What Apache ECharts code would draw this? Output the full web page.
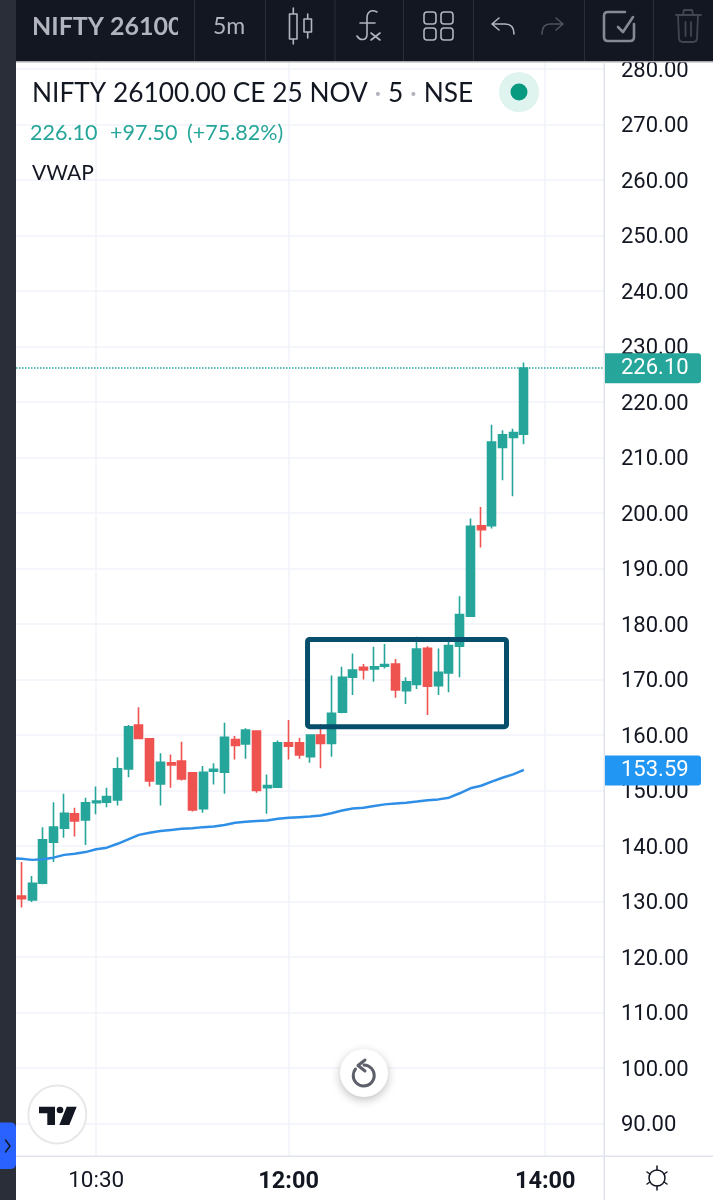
<!DOCTYPE html>
<html>
<head>
<meta charset="utf-8">
<style>
  html, body { margin: 0; padding: 0; background: #fff; }
  #chart { width: 713px; height: 1200px; }
</style>
<script src="https://cdn.jsdelivr.net/npm/echarts@6/dist/echarts.min.js"></script>
</head>
<body>
<div id="chart"></div>
<script>
// 5 minute bars, 09:50 is off the left edge and only carries the VWAP, the last few slots stay empty
const times = ['09:50','09:55','10:00','10:05','10:10','10:15','10:20','10:25','10:30','10:35','10:40','10:45','10:50','10:55',
  '11:00','11:05','11:10','11:15','11:20','11:25','11:30','11:35','11:40','11:45','11:50','11:55',
  '12:00','12:05','12:10','12:15','12:20','12:25','12:30','12:35','12:40','12:45','12:50','12:55',
  '13:00','13:05','13:10','13:15','13:20','13:25','13:30','13:35','13:40','13:45','13:50','13:55',
  '14:00','14:05','14:10','14:15','14:20','14:25'];
const timeLabels = ['10:30', '12:00', '14:00'];

const opens = [null,131.0,130.3,133.3,140.7,143.2,145.8,144.7,147.8,147.9,148.3,153.9,161.8,159.3,151.2,155.0,155.3,153.2,146.7,153.5,153.3,159.2,
  158.4,160.7,150.5,150.6,158.6,158.6,156.1,160.0,158.5,164.1,170.4,172.2,171.9,172.4,172.8,168.0,169.1,175.6,168.9,171.2,
  176.0,181.4,197.7,197.7,211.8,213.6,214.2];
const closes = [null,130.5,133.3,141.1,143.4,145.9,144.5,147.8,148.1,148.9,153.9,161.5,159.4,151.7,155.1,154.6,152.1,146.5,153.3,153.8,159.6,158.1,
  160.9,150.0,150.9,158.6,158.0,156.4,160.0,158.5,163.9,170.4,171.7,171.7,172.3,172.7,168.1,169.6,175.5,168.8,171.3,176.1,
  181.7,197.6,197.0,212.8,214.1,214.5,226.1];
const lows = [null,128.9,129.9,133.1,137.1,141.5,141.7,140.2,145.7,147.0,147.3,152.4,159.4,150.7,147.3,150.5,151.8,146.2,146.0,151.1,149.4,155.6,
  155.7,149.6,145.8,150.5,155.6,155.7,155.0,154.0,156.1,163.9,167.2,170.0,169.6,172.0,166.7,165.6,168.3,163.6,167.2,167.7,
  170.4,181.3,193.8,197.2,205.9,203.0,212.4];
const highs = [null,137.1,134.6,143.4,147.9,149.4,146.9,148.7,150.7,150.5,156.0,161.8,165.0,159.4,156.7,156.5,158.8,153.3,154.4,154.9,162.2,159.8,
  161.2,160.7,152.9,159.0,162.7,159.5,160.0,162.0,170.7,172.3,174.7,172.8,175.9,176.4,173.7,170.4,177.7,176.0,175.6,177.0,
  185.0,199.0,201.1,215.9,214.9,215.2,227.1];
const vwap = [137.8,137.7,137.5,137.6,137.9,138.4,138.6,138.9,139.4,139.7,140.4,141.2,142.0,142.4,142.7,142.9,143.1,143.2,143.4,143.5,143.8,144.2,
  144.35,144.5,144.6,144.9,145.1,145.2,145.3,145.5,145.9,146.4,146.75,146.9,147.2,147.5,147.65,147.8,148.0,148.25,148.4,148.7,
  149.5,150.4,150.85,151.6,152.3,152.9,153.7];
const lastPrice = 226.10;
const lastVwap = 153.59;

const TEAL = '#26a69a', RED = '#ef5350', BLUE = '#2f8fe6';
const UI_FONT = 'Roboto', TITLE_FONT = 'Lato';

let myChart = echarts.init(document.getElementById('chart'), null, { renderer: 'canvas' });

function tag(color) {
    return {
        show: true, position: 'end', distance: 0,
        formatter: p => p.value.toFixed(2),
        color: '#fff', backgroundColor: color, fontFamily: UI_FONT, fontSize: 22,
        width: 80, height: 24, lineHeight: 24, align: 'left', verticalAlign: 'middle',
        padding: [5, 0, 1, 17], borderRadius: [0, 3, 3, 0]
    };
}

option = {
    backgroundColor: '#fff',
    animation: false,
    grid: { left: 16, width: 588, top: 13.5, height: 1165.5 },
    xAxis: [
        {
            // gridlines only
            type: 'category', data: times, z: 1, min: 1,
            axisLine: { show: false }, axisTick: { show: false }, axisLabel: { show: false },
            splitLine: {
                show: true, alignWithLabel: true,
                interval: (i, v) => timeLabels.includes(v),
                lineStyle: { color: '#f0f3fa', width: 1.5 }
            }
        },
        {
            // time labels, they sit on top of the bottom strip
            type: 'category', data: times, z: 20, position: 'bottom', min: 1,
            axisLine: { show: false }, axisTick: { show: false },
            splitLine: { show: false },
            axisLabel: {
                show: true, margin: -9, hideOverlap: false,
                interval: (i, v) => timeLabels.includes(v),
                formatter: v => v === '10:30' ? v : '{b|' + v + '}',
                fontFamily: UI_FONT, fontSize: 22.5, color: '#131722',
                rich: { b: { fontFamily: UI_FONT, fontSize: 23.5, fontWeight: 'bold', color: '#131722' } }
            }
        }
    ],
    yAxis: {
        type: 'value', position: 'right', min: 80, max: 290, interval: 10, z: 1, scale: true,
        axisLine: { show: false }, axisTick: { show: false },
        axisLabel: {
            margin: 17, formatter: v => '{p|' + v.toFixed(2) + '}',
            rich: { p: { padding: [4, 0, 0, 0], fontFamily: UI_FONT, fontSize: 22, color: '#131722' } }
        },
        splitLine: { show: true, lineStyle: { color: '#f0f3fa', width: 1.5 } }
    },
    series: [
        {
            type: 'candlestick',
            barWidth: 8.5,
            data: opens.map((o, i) => o === null ? '-' : [o, closes[i], lows[i], highs[i]]),
            itemStyle: { color: TEAL, color0: RED, borderColor: TEAL, borderColor0: RED, borderWidth: 1.6 },
            markLine: {
                silent: true, symbol: 'none', animation: false, z: 6,
                lineStyle: { color: TEAL, type: 'dotted', width: 1.5 },
                label: tag(TEAL),
                data: [{ yAxis: lastPrice }]
            }
        },
        {
            type: 'line', name: 'VWAP', data: vwap, showSymbol: false, symbol: 'none', clip: true,
            lineStyle: { color: BLUE, width: 2.5 },
            markLine: {
                silent: true, symbol: 'none', animation: false, z: 6,
                lineStyle: { color: 'transparent', width: 0 },
                label: tag('#2196f3'),
                data: [{ yAxis: lastVwap }]
            }
        }
    ]
};
myChart.setOption(option);

// the app chrome around the chart
function rect(x, y, w, h, fill, z, r) {
    return { type: 'rect', z: z || 10, silent: true, shape: { x, y, width: w, height: h, r: r || 0 }, style: { fill } };
}
let iconCount = 0;
function iconType(d) {
    const name = 'chromeIcon' + (iconCount++);
    echarts.graphic.registerShape(name, echarts.graphic.extendPath(d));
    return name;
}
function stroke(d, color, width, z) {
    return {
        type: iconType(d), z: z || 12, silent: true,
        style: { fill: null, stroke: color, lineWidth: width, lineCap: 'round', lineJoin: 'round' }
    };
}
function fillPath(d, color, z) {
    return { type: iconType(d), z: z || 12, silent: true, style: { fill: color } };
}
function label(x, y, text, font, size, color, extra) {
    return {
        type: 'text', z: 13, silent: true, x, y,
        style: Object.assign({ text, fontFamily: font, fontSize: size, fill: color, verticalAlign: 'middle', align: 'left' }, extra || {})
    };
}

const ICON = '#b2b5be';
const elements = [
    // outer frame
    rect(16, 1157, 697, 43, '#fff'),
    rect(0, 0, 16, 1200, '#2a2e39'),
    rect(16, 0, 697, 61, '#131722'),
    rect(16, 61, 697, 1.5, '#a9abb0'),
    rect(16, 1155.5, 697, 1.5, '#e0e3eb'),
    rect(603.5, 62, 1.5, 1138, '#e0e3eb', 11),
    // header, the symbol name gets cut by its box
    label(32, 27, 'NIFTY 26100', TITLE_FONT, 25, ICON, { fontWeight: 'bold' }),
    rect(178, 0, 16, 61, '#131722', 14),
    label(213, 27, '5m', TITLE_FONT, 23, ICON),
    // indicator legend
    label(32, 94, 'NIFTY 26100.00 CE 25 NOV {d|·} 5 {d|·} NSE', TITLE_FONT, 26.3, '#131722', {
        rich: { d: { fontFamily: TITLE_FONT, fontSize: 26.3, fill: '#b2b5be' } }
    }),
    label(30, 133, '226.10', TITLE_FONT, 21.5, TEAL),
    label(110, 133, '+97.50', TITLE_FONT, 21.5, TEAL),
    label(187, 133, '(+75.82%)', TITLE_FONT, 21.5, TEAL),
    label(32, 173, 'VWAP', TITLE_FONT, 21, '#131722'),
    { type: 'circle', z: 12, silent: true, shape: { cx: 519, cy: 92, r: 20 }, style: { fill: '#dff3ef' } },
    { type: 'circle', z: 13, silent: true, shape: { cx: 519, cy: 92, r: 8.5 }, style: { fill: '#089981' } },
    // candle icon
    stroke('M293.3 8 L293.3 14 M293.3 39 L293.3 44 M289.5 14 L297 14 L297 39 L289.5 39 Z M307.7 14 L307.7 19 M307.7 32 L307.7 38 M304 19 L311.5 19 L311.5 32 L304 32 Z', ICON, 1.6),
    // fx icon
    stroke('M377 12 C371 9 367 12 367 18 L367 34 C367 41 360 41 357 36 M360 23 L375 23 M371 33 L380 40 M380 33 L371 40', ICON, 1.6),
    // layout icon
    stroke('M427 12 L433 12 Q436 12 436 15 L436 21 Q436 24 433 24 L427 24 Q424 24 424 21 L424 15 Q424 12 427 12 Z M444 12 L450 12 Q453 12 453 15 L453 21 Q453 24 450 24 L444 24 Q441 24 441 21 L441 15 Q441 12 444 12 Z M427 28 L433 28 Q436 28 436 31 L436 37 Q436 40 433 40 L427 40 Q424 40 424 37 L424 31 Q424 28 427 28 Z M444 28 L450 28 Q453 28 453 31 L453 37 Q453 40 450 40 L444 40 Q441 40 441 37 L441 31 Q441 28 444 28 Z', ICON, 1.6),
    // undo, redo
    stroke('M492 24 L505 24 C511 24 514 28 514 34 M499 18 L492 24 L499 30', ICON, 1.6),
    stroke('M563 24 L550 24 C544 24 542 28 542 34 M556 18 L563 24 L556 30', '#50535e', 1.6),
    // drawing toggle
    stroke('M625 12 L608 12 Q604 12 604 16 L604 37 Q604 41 608 41 L630 41 Q634 41 634 37 L634 24 M618 27 L623 32 L633 17', '#868993', 2.6),
    // trash
    stroke('M676 15 L701 15 M683 15 L684 10 L692 10 L693 15 M678 15 L679 38 Q679 42 683 42 L693 42 Q697 42 697 38 L698 15 M685.5 22 L685.5 36 M691 22 L691 36', '#434651', 1.8),
    // blue side tab
    { type: 'rect', z: 12, silent: true, shape: { x: 0, y: 1122.5, width: 16, height: 46.5, r: [0, 5, 5, 0] }, style: { fill: '#2962ff' } },
    stroke('M5.5 1140 L10 1146 L5.5 1152', '#131722', 1.4, 13),
    // tv logo
    { type: 'circle', z: 12, silent: true, shape: { cx: 57.3, cy: 1114.5, r: 29 }, style: { fill: '#fff', stroke: '#e8e8ea', lineWidth: 2 } },
    fillPath('M39 1106.7 L55 1106.7 L55 1125 L47.3 1125 L47.3 1113.3 L39 1113.3 Z M66.7 1106.7 L76.7 1106.7 L69.3 1125 L59.3 1125 Z', '#131722', 13),
    { type: 'circle', z: 13, silent: true, shape: { cx: 60, cy: 1110, r: 3.3 }, style: { fill: '#131722' } },
    // reset view
    { type: 'circle', z: 12, silent: true, shape: { cx: 364, cy: 1073, r: 24 }, style: { fill: '#fff', shadowBlur: 10, shadowOffsetY: 3, shadowColor: 'rgba(0,0,0,0.25)' } },
    stroke('M364 1065 A10.5 10.5 0 1 1 355.5 1069 M365 1060 L358 1065.5 L365 1071', '#5d606b', 3, 13),
    // light mode toggle
    { type: 'circle', z: 12, silent: true, shape: { cx: 657, cy: 1178, r: 8 }, style: { fill: null, stroke: '#131722', lineWidth: 1.5 } },
    stroke('M657 1170 L657 1166 M657 1186 L657 1190 M650 1174 L647 1172 M664 1174 L667 1172 M650 1182 L647 1184 M664 1182 L667 1184', '#131722', 1.5, 13)
];
// separators in the toolbar
[194, 265, 334.5, 403, 473, 584, 653].forEach(x => elements.push(rect(x, 0, 1, 61, '#2a2e39', 15)));

// the hand drawn range box, in bar slots (counted from the first visible bar) and prices
const boxFrom = 26.77, boxTo = 45.38, boxTop = 177.2, boxBottom = 161.5;
const slot0 = myChart.convertToPixel({ xAxisIndex: 0 }, 1);
const slot = myChart.convertToPixel({ xAxisIndex: 0 }, 2) - slot0;
const boxY1 = myChart.convertToPixel({ yAxisIndex: 0 }, boxTop);
const boxY2 = myChart.convertToPixel({ yAxisIndex: 0 }, boxBottom);
elements.push({
    type: 'rect', z: 8, silent: true,
    shape: { x: slot0 + boxFrom * slot, y: boxY1, width: (boxTo - boxFrom) * slot, height: boxY2 - boxY1, r: 2 },
    style: { fill: null, stroke: '#064e6b', lineWidth: 5 }
});

myChart.setOption({ graphic: { elements } });
</script>
</body>
</html>
